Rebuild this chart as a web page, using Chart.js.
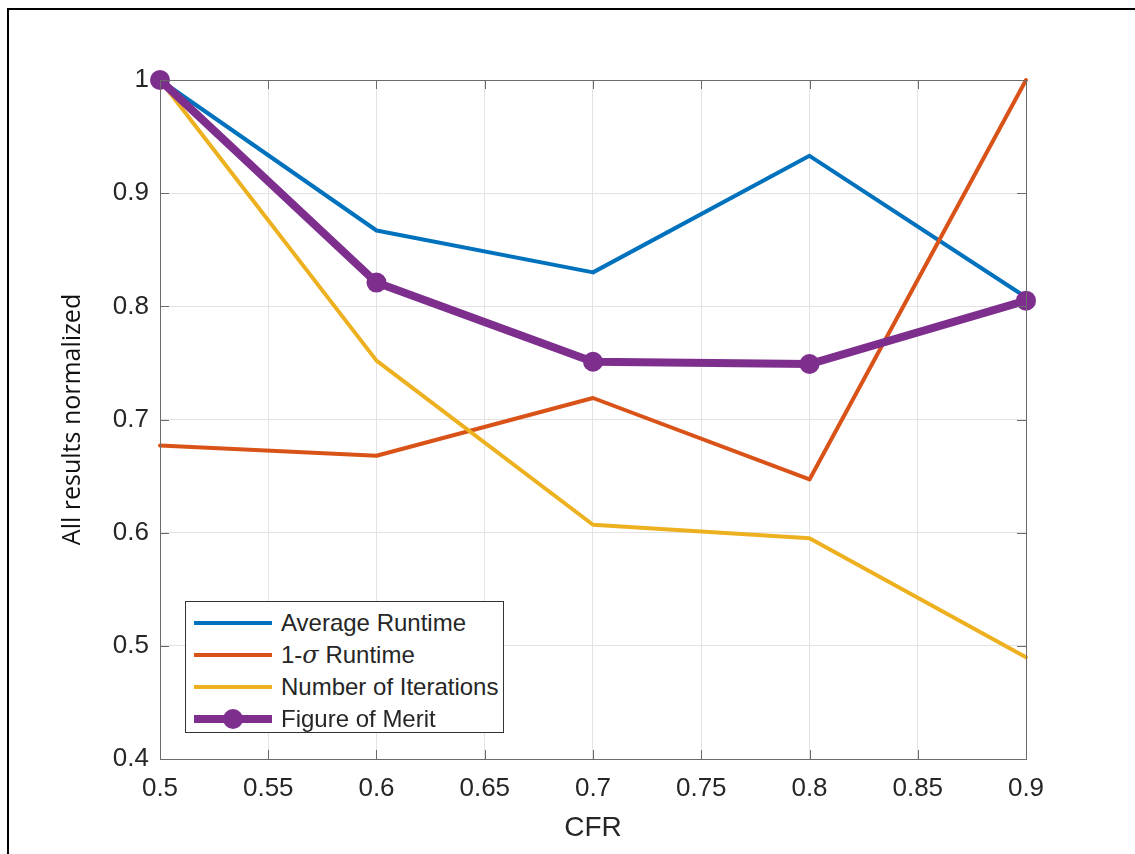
<!DOCTYPE html>
<html>
<head>
<meta charset="utf-8">
<script src="https://cdn.jsdelivr.net/npm/chart.js@4"></script>
<style>
    body { margin: 0; background: #fff; }
    #wrap { position: relative; width: 1135px; height: 854px; overflow: hidden; }
    #frame { position: absolute; left: 7px; top: 8px; width: 1200px; height: 900px;
             border-top: 2px solid #000; border-left: 2px solid #000; pointer-events: none; }
    #legend { position: absolute; left: 185px; top: 601px; width: 317px; height: 130px;
              border: 1px solid #333; background: #fff;
              font-family: "Liberation Sans", Arial, sans-serif; font-size: 24px; color: #262626; }
    .row { position: absolute; left: 0; height: 30px; display: flex; align-items: center; white-space: nowrap; }
    .sample { position: relative; width: 78px; margin-left: 8px; margin-right: 9px; }
    .sym { font-family: "DejaVu Serif", "Liberation Serif", serif; font-style: italic; }
</style>
</head>
<body>
<div id="wrap">
    <canvas id="resultChart" width="1135" height="854"></canvas>
    <div id="frame"></div>
    <div id="legend"></div>
</div>
<script>
// CFR values on the x axis
const cfr = [0.5, 0.6, 0.7, 0.8, 0.9];

// normalized results
const avgRuntime = [1.0, 0.867, 0.830, 0.933, 0.808];
const sigmaRuntime = [0.677, 0.668, 0.719, 0.647, 1.0];
const numIterations = [1.0, 0.752, 0.607, 0.595, 0.490];
const figureOfMerit = [1.0, 0.821, 0.751, 0.749, 0.805];

const seriesLabels = ["Average Runtime", "1-σ Runtime", "Number of Iterations", "Figure of Merit"];
const seriesColors = ["#0072BD", "#D95319", "#EDB120", "#7E2F8E"];

const fontFamily = '"Liberation Sans", Arial, sans-serif';
const textColor = "#262626";

function toPoints(values) {
    return values.map((v, i) => ({ x: cfr[i], y: v }));
}

// draws the MATLAB style box with inward ticks
const boxPlugin = {
    id: "axesBox",
    afterDatasetsDraw(chart) {
        const { ctx, chartArea: a, scales } = chart;
        const len = 9;
        ctx.save();
        ctx.strokeStyle = "#6b6b6b";
        ctx.lineWidth = 1;
        ctx.strokeRect(a.left + 0.5, a.top + 0.5, a.right - a.left, a.bottom - a.top);
        ctx.beginPath();
        scales.x.ticks.forEach(t => {
            const px = Math.round(scales.x.getPixelForValue(t.value)) + 0.5;
            ctx.moveTo(px, a.bottom); ctx.lineTo(px, a.bottom - len);
            ctx.moveTo(px, a.top); ctx.lineTo(px, a.top + len);
        });
        scales.y.ticks.forEach(t => {
            const py = Math.round(scales.y.getPixelForValue(t.value)) + 0.5;
            ctx.moveTo(a.left, py); ctx.lineTo(a.left + len, py);
            ctx.moveTo(a.right, py); ctx.lineTo(a.right - len, py);
        });
        ctx.stroke();
        ctx.restore();
    }
};

const chartCanvas = document.getElementById("resultChart");

const resultChart = new Chart(chartCanvas, {
    type: "line",
    data: {
        datasets: [
            { label: seriesLabels[0], data: toPoints(avgRuntime), borderColor: seriesColors[0], borderWidth: 4, pointRadius: 0, order: 4 },
            { label: seriesLabels[1], data: toPoints(sigmaRuntime), borderColor: seriesColors[1], borderWidth: 4, pointRadius: 0, order: 3 },
            { label: seriesLabels[2], data: toPoints(numIterations), borderColor: seriesColors[2], borderWidth: 4, pointRadius: 0, order: 2 },
            { label: seriesLabels[3], data: toPoints(figureOfMerit), borderColor: seriesColors[3], backgroundColor: seriesColors[3],
              borderWidth: 8, pointRadius: 10, pointBorderWidth: 0, order: 1 }
        ].map(d => Object.assign(d, { fill: false, tension: 0, clip: false, borderJoinStyle: "round", borderCapStyle: "round" }))
    },
    options: {
        responsive: false,
        animation: false,
        events: [],
        layout: { padding: { top: 80, right: 109, bottom: 0, left: 0 } },
        plugins: {
            legend: { display: false },
            tooltip: { enabled: false }
        },
        scales: {
            x: {
                type: "linear",
                min: 0.5,
                max: 0.9,
                afterFit(scale) { scale.height = 95; },
                grid: { color: "#e3e3e3", drawTicks: false },
                border: { display: false },
                ticks: {
                    stepSize: 0.05,
                    padding: 14,
                    color: textColor,
                    font: { family: fontFamily, size: 26 },
                    callback: v => +v.toFixed(2)
                },
                title: {
                    display: true,
                    text: "CFR",
                    color: textColor,
                    font: { family: fontFamily, size: 28 },
                    padding: { top: 0, bottom: 9 }
                }
            },
            y: {
                min: 0.4,
                max: 1,
                afterFit(scale) { scale.width = 160; },
                grid: { color: "#e3e3e3", drawTicks: false },
                border: { display: false },
                ticks: {
                    stepSize: 0.1,
                    padding: 11,
                    color: textColor,
                    font: { family: fontFamily, size: 26 },
                    callback: v => +v.toFixed(1)
                },
                title: {
                    display: true,
                    text: "All results normalized",
                    color: "#111",
                    font: { family: '"Open Sans", sans-serif', size: 25 },
                    padding: { top: 58, bottom: 0 }
                }
            }
        }
    },
    plugins: [boxPlugin]
});

// legend box inside the axes, built from the datasets
const legendBox = document.getElementById("legend");
resultChart.data.datasets.forEach((ds, i) => {
    const row = document.createElement("div");
    row.className = "row";
    row.style.top = (6 + i * 32) + "px";

    const sample = document.createElement("div");
    sample.className = "sample";
    sample.style.height = ds.borderWidth + "px";
    sample.style.background = ds.borderColor;
    if (ds.pointRadius > 0) {
        const dot = document.createElement("div");
        const d = ds.pointRadius * 2;
        dot.style.cssText = `position:absolute;left:${39 - ds.pointRadius}px;top:${ds.borderWidth / 2 - ds.pointRadius}px;width:${d}px;height:${d}px;border-radius:50%;background:${ds.borderColor}`;
        sample.appendChild(dot);
    }
    row.appendChild(sample);

    const text = document.createElement("span");
    if (ds.label.includes("σ")) {
        const parts = ds.label.split("σ");
        text.append(parts[0]);
        const s = document.createElement("span");
        s.className = "sym";
        s.textContent = "σ";
        text.appendChild(s);
        text.append(parts[1]);
    } else {
        text.textContent = ds.label;
    }
    row.appendChild(text);
    legendBox.appendChild(row);
});
</script>
</body>
</html>
